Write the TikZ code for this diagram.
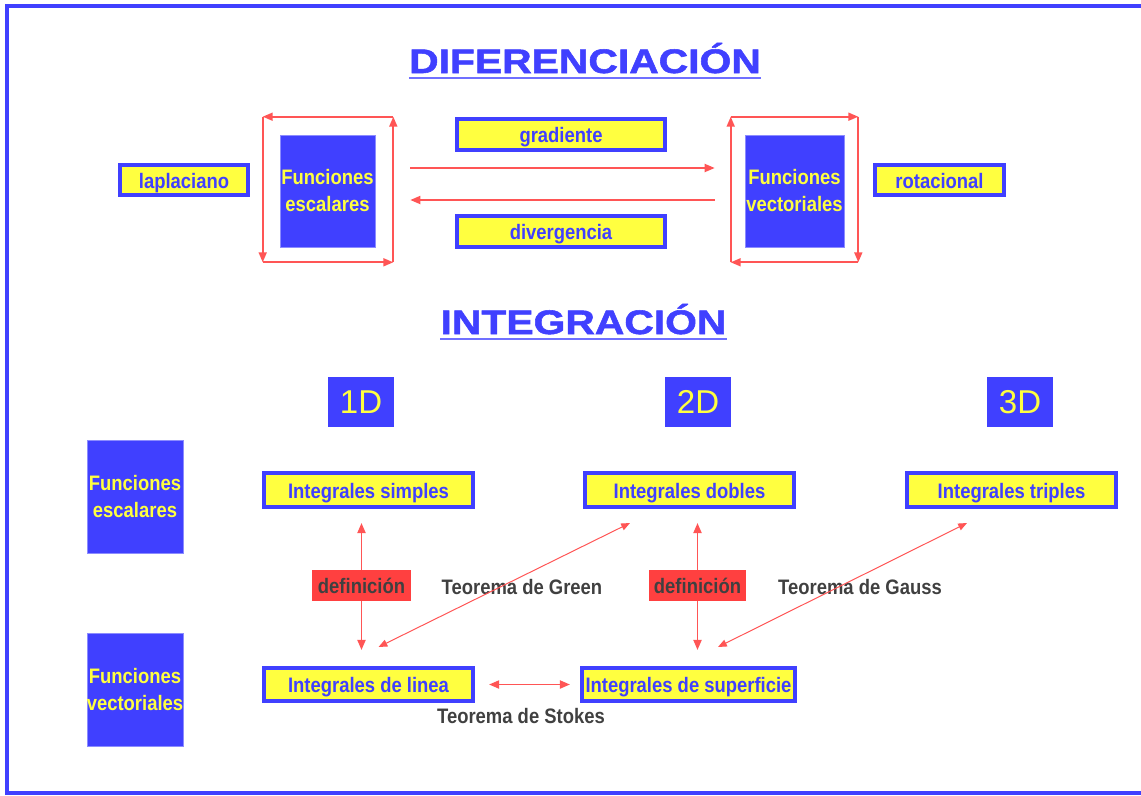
\documentclass[tikz,border=0pt]{standalone}
\usepackage{fontspec}
\setmainfont{Liberation Sans}
\newfontfamily\boxfont[FakeStretch=0.88]{Liberation Sans}
\newfontfamily\titlefont[FakeStretch=1.2, FakeBold=1.6]{Liberation Sans}
\usetikzlibrary{arrows.meta, positioning}
\definecolor{diagblue}{RGB}{64,64,255}
\definecolor{diagyellow}{RGB}{255,255,64}
\definecolor{diagred}{RGB}{255,64,64}
\definecolor{arrowred}{RGB}{255,85,85}
\definecolor{darktext}{RGB}{64,64,64}
\tikzset{
  yellowbox/.style={rectangle, fill=diagyellow, draw=diagblue, line width=0.1cm, text=diagblue,
    font=\boxfont\bfseries\fontsize{14.9}{19.2}\selectfont, inner sep=0pt, minimum height=0.8cm,
    text height=0.4cm, text depth=0pt},
  funcbox/.style={rectangle, fill=diagblue, draw=diagblue!60, line width=0.4pt, text=diagyellow,
    align=center, font=\boxfont\bfseries\fontsize{14.9}{19.2}\selectfont, inner sep=0pt,
    minimum width=2.4cm, minimum height=2.8cm},
  dimbox/.style={rectangle, fill=diagblue, text=diagyellow, font=\fontsize{23.5}{28}\selectfont,
    minimum width=1.65cm, minimum height=1.25cm, inner sep=0pt},
  defbox/.style={rectangle, fill=diagred, text=darktext, font=\boxfont\bfseries\fontsize{14.9}{19.2}\selectfont,
    minimum height=0.775cm, inner sep=0pt, text height=0.4cm, text depth=0pt},
  theorem/.style={text=darktext, font=\boxfont\bfseries\fontsize{14.9}{19.2}\selectfont, inner sep=0pt},
  sectitle/.style={text=diagblue, font=\titlefont\bfseries\fontsize{24.2}{29}\selectfont, inner sep=0pt},
  titleline/.style={diagblue!75, line width=0.05cm},
  redarrow/.style={-{Triangle[length=0.25cm, width=0.2cm]}, arrowred, line width=0.045cm},
  thinarrow/.style={{Triangle[length=0.22cm, width=0.18cm]}-{Triangle[length=0.22cm, width=0.18cm]},
    arrowred, line width=0.025cm},
  frameline/.style={diagblue, line width=0.08cm}
}

\begin{document}
\begin{tikzpicture}[x=0.025cm, y=-0.025cm]
  \useasboundingbox (0,0) rectangle (1141,795);
  \draw[frameline] (1141,6) -- (7,6) -- (7,793) -- (1141,793);

  % diferenciacion
  \node[sectitle, anchor=base] (dif) at (585,73) {DIFERENCIACIÓN};
  \draw[titleline] ([yshift=-0.12cm]dif.base west) -- ([yshift=-0.12cm]dif.base east);
  \node[yellowbox, minimum width=3.2cm, minimum height=0.75cm]   (lap)  at (184,180)   {laplaciano};
  \node[funcbox, minimum width=2.375cm]                           (fe)   at (327.5,191) {Funciones\\escalares};
  \node[yellowbox, minimum width=5.2cm, minimum height=0.775cm]  (grad) at (561,134.5) {gradiente};
  \node[yellowbox, minimum width=5.2cm, minimum height=0.775cm]  (div)  at (561,231.5) {divergencia};
  \node[funcbox, minimum width=2.475cm]                           (fv)   at (794.5,191) {Funciones\\vectoriales};
  \node[yellowbox, minimum width=3.225cm, minimum height=0.75cm] (rot)  at (939.5,180) {rotacional};

  \coordinate (fe-nw) at ([shift={(-17,-18)}]fe.north west);
  \coordinate (fe-ne) at ([shift={(18,-18)}]fe.north east);
  \coordinate (fe-se) at ([shift={(18,15)}]fe.south east);
  \coordinate (fe-sw) at ([shift={(-17,15)}]fe.south west);
  \draw[redarrow] (fe-se) -- (fe-ne);
  \draw[redarrow] (fe-ne) -- (fe-nw);
  \draw[redarrow] (fe-nw) -- (fe-sw);
  \draw[redarrow] (fe-sw) -- (fe-se);

  \coordinate (fv-nw) at ([shift={(-14,-18)}]fv.north west);
  \coordinate (fv-ne) at ([shift={(14,-18)}]fv.north east);
  \coordinate (fv-se) at ([shift={(14,15)}]fv.south east);
  \coordinate (fv-sw) at ([shift={(-14,15)}]fv.south west);
  \draw[redarrow] (fv-sw) -- (fv-nw);
  \draw[redarrow] (fv-nw) -- (fv-ne);
  \draw[redarrow] (fv-ne) -- (fv-se);
  \draw[redarrow] (fv-se) -- (fv-sw);

  \draw[redarrow] ([shift={(35,-23)}]fe.east) -- ([shift={(-30,-23)}]fv.west);
  \draw[redarrow] ([shift={(-30,9)}]fv.west) -- ([shift={(35,9)}]fe.east);

  % integracion
  \node[sectitle, anchor=base] (integ) at (583.5,334) {INTEGRACIÓN};
  \draw[titleline] ([yshift=-0.12cm]integ.base west) -- ([yshift=-0.12cm]integ.base east);
  \node[dimbox] (d1) at (361,402)  {1D};
  \node[dimbox] (d2) at (698,402)  {2D};
  \node[dimbox] (d3) at (1020,402) {3D};
  \node[funcbox, minimum width=2.4cm, minimum height=2.825cm] (fe2) at (135,496.5) {Funciones\\escalares};
  \node[funcbox, minimum width=2.4cm, minimum height=2.825cm] (fv2) at (135,689.5) {Funciones\\vectoriales};
  \node[yellowbox, minimum width=5.225cm, minimum height=0.85cm]  (simples) at (368.5,490)  {Integrales simples};
  \node[yellowbox, minimum width=5.225cm, minimum height=0.85cm]  (dobles)  at (689.5,490)  {Integrales dobles};
  \node[yellowbox, minimum width=5.225cm, minimum height=0.85cm]  (triples) at (1011.5,490) {Integrales triples};
  \node[yellowbox, minimum width=5.225cm, minimum height=0.825cm] (linea)   at (368.5,684.5) {Integrales de linea};
  \node[yellowbox, minimum width=5.325cm, minimum height=0.825cm] (sup)     at (688.5,684.5) {Integrales de superficie};
  \node[defbox, minimum width=2.475cm] (def1) at (361.5,585.5) {definición};
  \node[defbox, minimum width=2.425cm] (def2) at (697.5,585.5) {definición};
  \node[theorem] (green)  at (522,587) {Teorema de Green};
  \node[theorem] (gauss)  at (860,587) {Teorema de Gauss};
  \node[theorem] (stokes) at (521,716) {Teorema de Stokes};

  \draw[redarrow, shorten >=0.35cm] (def1.north) -- (def1.north |- simples.south);
  \draw[redarrow, shorten >=0.4cm]  (def1.south) -- (def1.south |- linea.north);
  \draw[redarrow, shorten >=0.35cm] (def2.north) -- (def2.north |- dobles.south);
  \draw[redarrow, shorten >=0.4cm]  (def2.south) -- (def2.south |- sup.north);
  \draw[thinarrow] ([shift={(10,-19)}]linea.north) -- ([shift={(-59.5,14)}]dobles.south);
  \draw[thinarrow] ([shift={(29.5,-19)}]sup.north) -- ([shift={(-44.5,14)}]triples.south);
  \draw[redarrow, {Triangle[length=0.25cm, width=0.2cm]}-{Triangle[length=0.25cm, width=0.2cm]},
    shorten <=0.35cm, shorten >=0.25cm] (linea.east) -- (sup.west);
\end{tikzpicture}
\end{document}
